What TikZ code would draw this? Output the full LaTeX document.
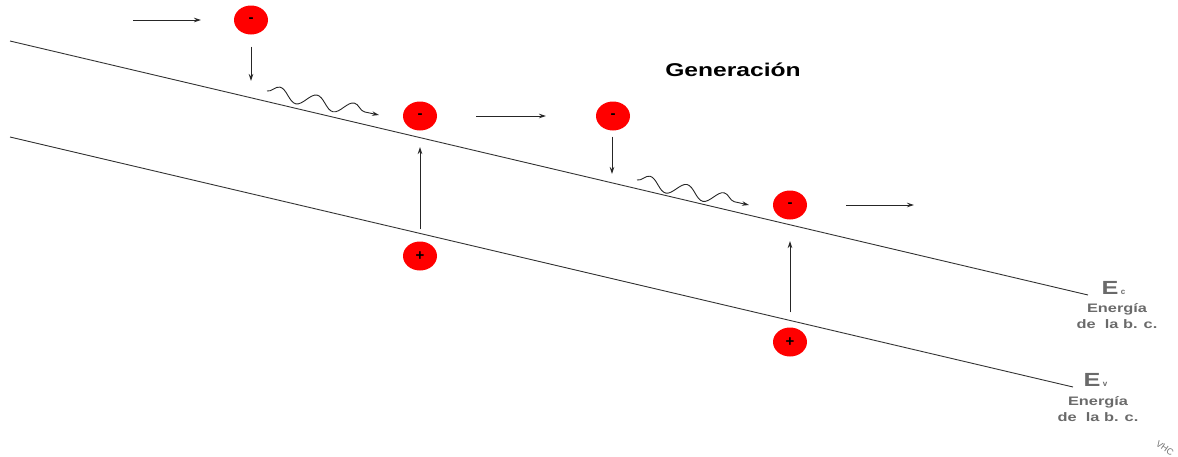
\documentclass[tikz,border=0pt]{standalone}
\usepackage{fontspec}
\setmainfont{Liberation Sans}
\usetikzlibrary{arrows.meta,decorations.pathmorphing,shapes.geometric}
\definecolor{labelgray}{HTML}{6A6A6A}
% text in this drawing is set slightly wide
\newcommand{\widetext}[1]{\scalebox{1.33}[1]{#1}}
\tikzset{
  carrier/.style={ellipse, fill=red, minimum width=34pt, minimum height=29pt, inner sep=0pt, font=\bfseries\fontsize{15}{15}\selectfont},
  band/.style={draw=black!80, line width=0.9pt},
  move/.style={draw=black!85, line width=0.9pt, -{Stealth[length=7pt,width=4.5pt]}},
  relax/.style={move, decorate, decoration={snake, amplitude=6.5pt, segment length=38pt, post length=12pt}},
  levelsym/.style={text=labelgray, font=\bfseries\fontsize{19}{19}\selectfont, inner sep=0pt},
  levelsub/.style={text=labelgray, font=\bfseries\fontsize{8}{8}\selectfont, inner sep=0pt},
  levelname/.style={text=labelgray, font=\bfseries\fontsize{12.3}{15.5}\selectfont, align=center, inner sep=0pt}
}
\begin{document}
\begin{tikzpicture}[x=1pt,y=-1pt]
\useasboundingbox (0,0) rectangle (1178,456);

% conduction and valence band edges
\coordinate (ecL) at (10,41);
\coordinate (ecR) at (1088,295);
\coordinate (evL) at (10,137);
\coordinate (evR) at (1073,387);
\draw[band] (ecL) -- (ecR);
\draw[band] (evL) -- (evR);

% electrons and holes
\node[carrier] (e1) at (251,20) {-};
\node[carrier] (e2) at (420,116) {-};
\node[carrier] (e3) at (613,116) {-};
\node[carrier] (e4) at (790,205) {-};
\node[carrier] (h1) at (420,256) {+};
\node[carrier] (h2) at (790,342) {+};

% free ends of the arrows
\coordinate (a1s) at (133,20);  \coordinate (a1e) at (201,20);
\coordinate (d1e) at (251,81);
\coordinate (w1s) at (267,91);  \coordinate (w1e) at (379,115);
\coordinate (a2s) at (476,116); \coordinate (a2e) at (546,116);
\coordinate (d2e) at (612,174);
\coordinate (w2s) at (637,180); \coordinate (w2e) at (749,205);
\coordinate (a3s) at (846,205); \coordinate (a3e) at (914,205);
\coordinate (u1e) at (420,147);
\coordinate (u2e) at (790,241);

\draw[move] (a1s) -- (a1e);
\draw[move] (e1.south) ++(0,12) -- (d1e);
\draw[relax] (w1s) -- (w1e);
\draw[move] (a2s) -- (a2e);
\draw[move] (e3.south) ++(-1,6) -- (d2e);
\draw[relax] (w2s) -- (w2e);
\draw[move] (a3s) -- (a3e);

% generation: hole left behind, electron lifted
\draw[move] (h1.north) ++(0,-12) -- (u1e);
\draw[move] (h2.north) ++(0,-15) -- (u2e);

% title
\node[font=\bfseries\fontsize{18.5}{18.5}\selectfont] (title) at (733,70) {\widetext{Generación}};

% band labels
\node[levelsym] (ec) at (1110,288) {\widetext{E}};
\node[levelsub, anchor=base west] (ecsub) at ([xshift=2pt]ec.base east) {c};
\node[levelname] (ecname) at (1117,316) {\widetext{Energía}\\\widetext{de\ \ la b. c.}};

\node[levelsym] (ev) at (1092,380) {\widetext{E}};
\node[levelsub, anchor=base west] (evsub) at ([xshift=2pt]ev.base east) {v};
\node[levelname] (evname) at (1098,409) {\widetext{Energía}\\\widetext{de\ \ la b. c.}};

% signature
\node[text=black!55, font=\fontsize{9}{9}\selectfont, rotate=-35, inner sep=0pt] (sig) at (1165,448) {VHC};
\end{tikzpicture}
\end{document}
